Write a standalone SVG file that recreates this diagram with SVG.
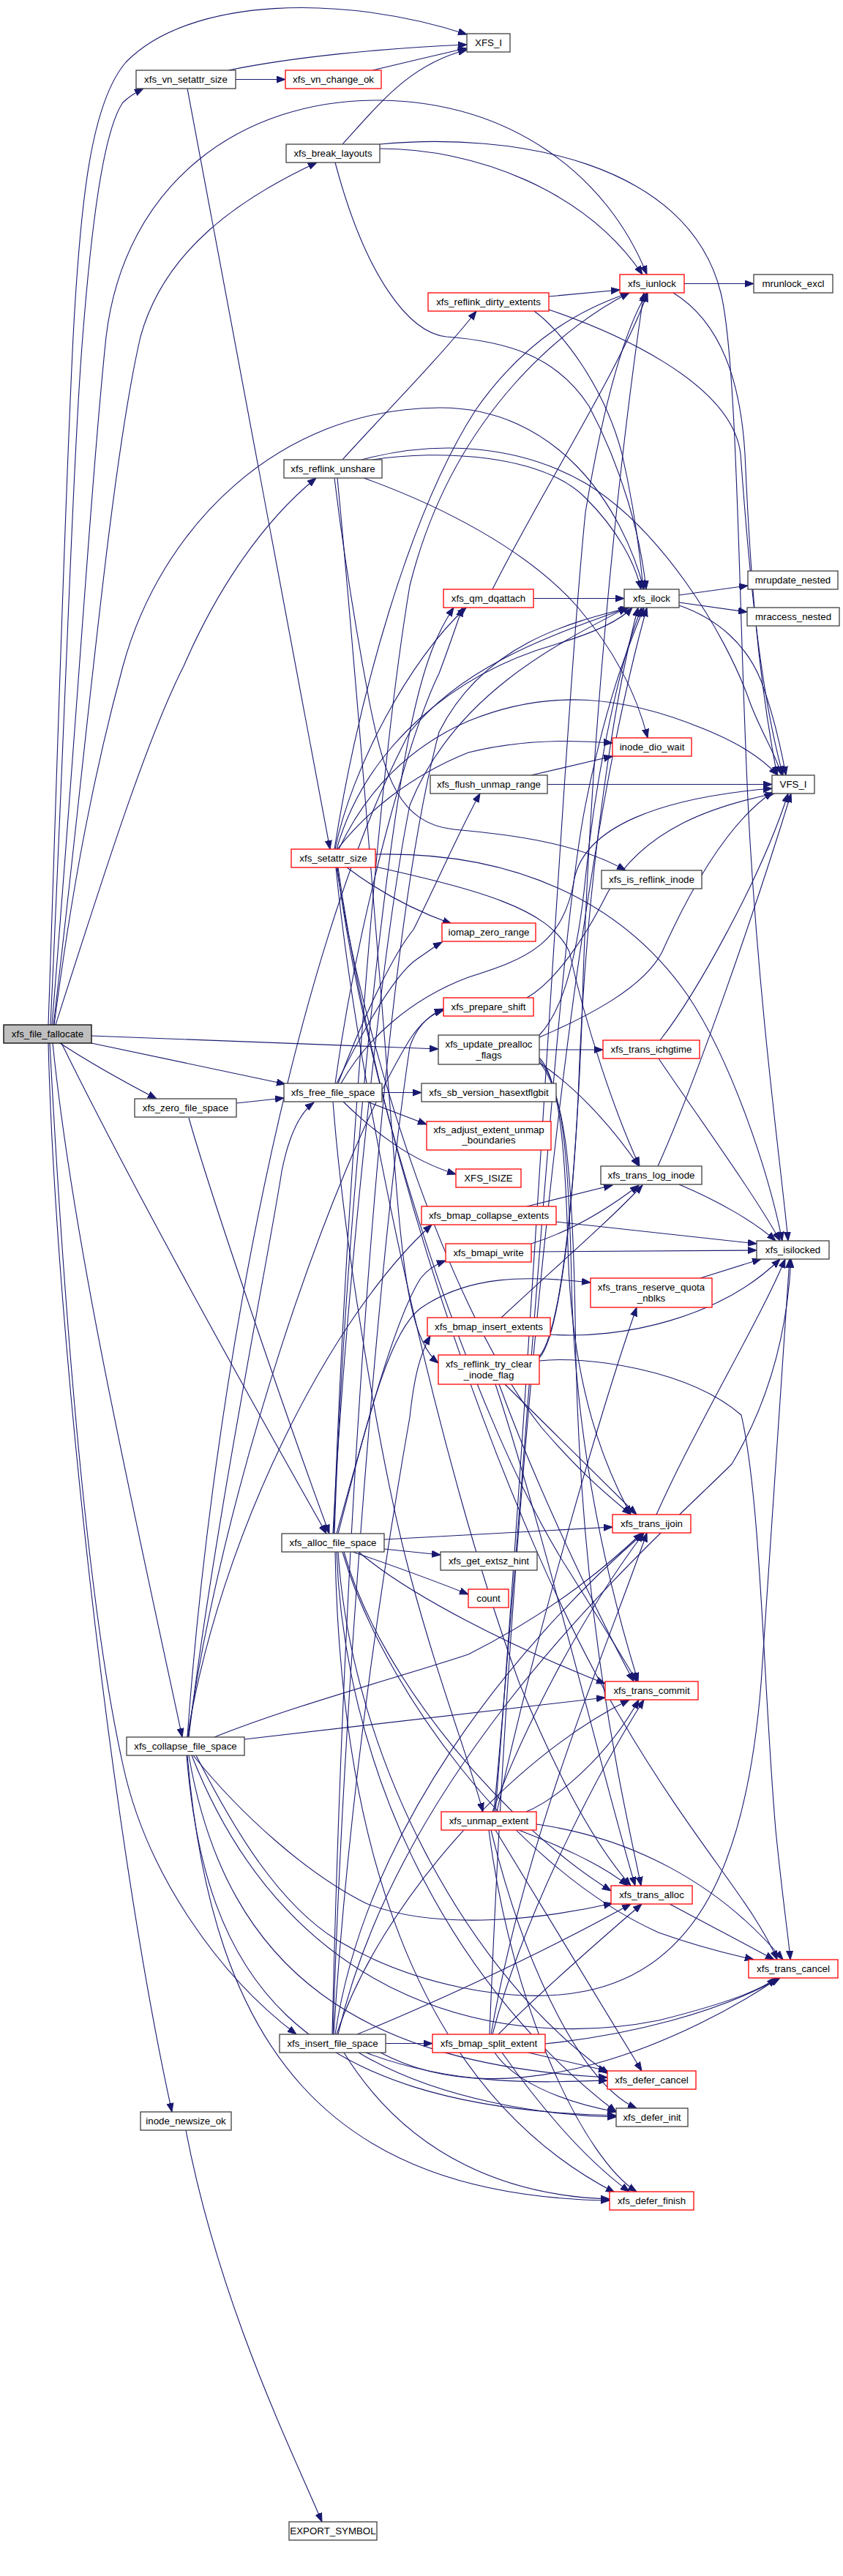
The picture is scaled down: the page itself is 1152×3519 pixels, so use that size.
<svg xmlns="http://www.w3.org/2000/svg" width="1152" height="3519" viewBox="0 0 1152 3519">
<defs>
<style>
.nb{fill:#fff;stroke:#404040;stroke-width:1.3}
.nr{fill:#fff;stroke:#ff0000;stroke-width:1.3}
.nroot{fill:#bfbfbf;stroke:#000;stroke-width:1.3}
text{font-family:"Liberation Sans",Arial,sans-serif;font-size:13.3px;fill:#000;text-anchor:middle}
.e path{fill:none;stroke:#191970;stroke-width:1.1;marker-end:url(#a)}
</style>
<marker id="a" markerWidth="14" markerHeight="10" refX="12" refY="5" orient="auto" markerUnits="userSpaceOnUse"><path d="M0,0.5 L12,5 L0,9.5 z" fill="#191970" stroke="#191970" stroke-width="1"/></marker>
</defs>
<rect width="1152" height="3519" fill="#fff"/>
<g class="e" id="edges">
<path d="M66,1400 C78,1050 88,700 100,460 C110,270 125,140 172,85 C260,-5 470,-8 638,47"/>
<path d="M69,1400 C88,1000 100,620 113,460 C124,320 140,180 168,140 C176,132 186,126 196,121"/>
<path d="M71,1400 C100,1050 125,650 145,460 C170,250 330,135 520,137 C700,140 830,240 884,375"/>
<path d="M73,1400 C115,1050 150,640 192,460 C225,340 330,270 433,222"/>
<path d="M76,1400 C140,1200 200,1010 251,910 C290,820 350,720 432,653"/>
<path d="M74,1400 C100,1200 130,1050 168,910 C220,720 380,558 600,557 C760,556 850,690 880,805"/>
<path d="M125,1415 L599,1433"/>
<path d="M125,1425 L390,1481"/>
<path d="M82,1425 C120,1450 170,1478 214,1501"/>
<path d="M84,1425 C180,1620 330,1890 446,2095"/>
<path d="M72,1425 C100,1700 180,2050 249,2373"/>
<path d="M68,1425 C80,1650 110,2150 168,2411 C200,2560 300,2700 405,2779"/>
<path d="M66,1425 C75,1800 150,2500 235,2885"/>
<path d="M312,96 C400,78 520,66 638,61"/>
<path d="M322,108.5 L390,108.5"/>
<path d="M256,121 L451,1160"/>
<path d="M509,96 C560,84 600,74 638,66"/>
<path d="M468,197 C520,140 560,88 638,68"/>
<path d="M519,203 C650,203 800,260 878,375"/>
<path d="M519,197 C700,180 940,220 985,400 C1010,500 1010,900 1025,1150 C1040,1400 1068,1600 1077,1695"/>
<path d="M458,222 C500,380 560,455 610,460 C690,466 760,485 805,555 C850,640 875,730 883,805"/>
<path d="M935,387.5 L1030,387.5"/>
<path d="M920,400 C985,440 1012,520 1018,620 C1025,780 1035,920 1062,1059"/>
<path d="M750,405 L847,396"/>
<path d="M730,425 C765,450 825,525 850,620 C866,690 875,760 879,805"/>
<path d="M750,423 C830,450 1000,520 1012,620 C1025,800 1040,950 1070,1059"/>
<path d="M468,628 C520,570 600,490 651,425"/>
<path d="M509,628 C600,614 740,620 800,680 C845,725 868,770 876,805"/>
<path d="M494,628 C600,600 710,608 800,660 C900,720 990,860 1025,960 C1040,1000 1060,1030 1068,1059"/>
<path d="M497,653 C600,690 720,750 790,830 C848,898 873,960 885,1008"/>
<path d="M457,653 C470,760 490,880 505,960 C525,1060 545,1125 620,1133 C700,1140 790,1152 855,1189"/>
<path d="M461,653 C485,900 520,1350 540,1600 C552,1760 565,1835 599,1862"/>
<path d="M729,817.5 L853,817.5"/>
<path d="M673,805 C735,680 850,500 885,400"/>
<path d="M928,813 L1022,800"/>
<path d="M928,823 L1021,836"/>
<path d="M928,827 C980,845 1020,880 1040,930 C1055,970 1065,1010 1074,1059"/>
<path d="M748,1071.5 L1055,1071.5"/>
<path d="M726,1059 L837,1033"/>
<path d="M513,1167 C700,1163 850,1230 940,1360 C1000,1450 1050,1600 1069,1695"/>
<path d="M513,1184 C650,1215 750,1240 778,1300 C800,1400 840,1520 874,1593"/>
<path d="M474,1185 C520,1220 570,1245 617,1262"/>
<path d="M463,1160 C500,1080 560,1020 640,985 C750,940 850,950 960,995 C1010,1015 1040,1035 1063,1059"/>
<path d="M461,1160 C500,1110 560,1060 640,1028 C720,1008 800,1012 837,1015"/>
<path d="M458,1160 C480,1050 560,900 637,830"/>
<path d="M460,1160 C500,1020 620,920 760,880 C820,862 850,845 864,830"/>
<path d="M457,1160 C490,950 560,700 650,560 C720,460 800,420 860,400"/>
<path d="M459,1185 C490,1500 600,2000 710,2300 C780,2470 830,2540 862,2576"/>
<path d="M460,1185 C500,1450 620,1800 740,1950 C800,2020 840,2050 862,2069"/>
<path d="M461,1185 C500,1500 650,1950 780,2150 C830,2230 855,2270 870,2297"/>
<path d="M462,1185 C520,1600 700,2100 850,2350 C950,2520 1030,2600 1062,2677"/>
<path d="M522,1492.5 L576,1492.5"/>
<path d="M502,1505 L583,1536"/>
<path d="M469,1505 C510,1545 560,1585 623,1604"/>
<path d="M462,1480 C500,1380 540,1300 565,1270 C600,1200 630,1130 656,1084"/>
<path d="M460,1480 C500,1400 540,1330 570,1310 C585,1300 595,1292 604,1287"/>
<path d="M458,1480 C490,1250 560,1000 600,920 C615,880 625,850 632,830"/>
<path d="M466,1480 C500,1420 560,1365 640,1335 C720,1310 770,1290 785,1200 C800,1130 900,1090 1055,1077"/>
<path d="M455,1505 C470,1700 520,2000 560,2150 C600,2300 640,2400 660,2475"/>
<path d="M323,1507 L388,1500"/>
<path d="M258,1527 C290,1640 400,1960 450,2095"/>
<path d="M737,1434 L824,1434"/>
<path d="M737,1417 C800,1390 880,1350 905,1300 C950,1200 1000,1120 1056,1082"/>
<path d="M737,1414 C770,1380 790,1300 800,1200 C815,1050 848,900 877,830"/>
<path d="M737,1452 C780,1480 830,1530 873,1593"/>
<path d="M737,1445 C762,1470 772,1550 776,1700 C780,1900 830,2010 862,2069"/>
<path d="M737,1448 C766,1480 777,1560 781,1750 C786,2000 842,2200 872,2297"/>
<path d="M737,1451 C770,1490 782,1580 786,1800 C790,2200 850,2450 876,2576"/>
<path d="M902,1421 C950,1360 1040,1200 1077,1084"/>
<path d="M900,1446 C950,1520 1030,1630 1066,1695"/>
<path d="M899,1593 C950,1480 1030,1250 1081,1084"/>
<path d="M928,1618 C980,1640 1030,1668 1060,1695"/>
<path d="M720,1648 L837,1619"/>
<path d="M760,1669 L1034,1699"/>
<path d="M726,1699 C780,1682 830,1652 873,1619"/>
<path d="M726,1710 L1034,1708"/>
<path d="M685,1800 C760,1730 830,1670 878,1619"/>
<path d="M752,1823 C850,1830 985,1800 1066,1720"/>
<path d="M957,1746 L1040,1720"/>
<path d="M897,2069 C950,1950 1040,1800 1073,1720"/>
<path d="M737,1859 C800,1852 940,1870 1013,1933 C1040,2050 1043,2300 1060,2500 C1070,2600 1078,2650 1080,2677"/>
<path d="M690,1891 C750,1950 830,2030 870,2069"/>
<path d="M677,1891 C740,2080 830,2450 868,2576"/>
<path d="M682,1891 C740,2050 830,2230 866,2297"/>
<path d="M737,1855 C760,1830 780,1700 790,1500 C800,1200 840,950 872,830"/>
<path d="M737,1853 C765,1820 785,1650 795,1400 C805,1000 850,600 880,400"/>
<path d="M720,1363 C760,1340 800,1280 830,1220 C880,1130 980,1100 1058,1084"/>
<path d="M525,2116 L602,2124"/>
<path d="M482,2120 C540,2140 600,2162 640,2178"/>
<path d="M525,2103 L837,2086"/>
<path d="M460,2095 C500,1950 540,1800 575,1746 C585,1733 596,1727 609,1722"/>
<path d="M462,2095 C500,1950 530,1820 575,1787 C640,1742 720,1742 807,1752"/>
<path d="M470,2120 C520,2300 700,2500 835,2583"/>
<path d="M490,2120 C560,2180 700,2250 827,2300"/>
<path d="M468,2120 C520,2300 700,2550 900,2640 C970,2665 1010,2672 1030,2677"/>
<path d="M460,2120 C470,2400 600,2700 842,2885"/>
<path d="M458,2120 C465,2500 560,2850 840,2995"/>
<path d="M462,2120 C480,2400 640,2700 832,2833"/>
<path d="M455,2095 C470,1800 520,1300 560,1100 C620,950 760,880 857,830"/>
<path d="M456,2095 C470,1700 510,1100 560,800 C620,560 780,440 860,400"/>
<path d="M457,2095 C470,1700 520,1200 560,1000 C580,900 600,860 620,830"/>
<path d="M258,2373 C290,2100 370,1700 385,1600 C395,1550 410,1520 429,1506"/>
<path d="M257,2373 C300,2050 450,1600 560,1420 C575,1397 590,1385 606,1380"/>
<path d="M334,2376 L827,2319"/>
<path d="M293,2373 C400,2330 550,2290 640,2260 C760,2200 840,2130 877,2094"/>
<path d="M256,2373 C300,2100 450,1800 590,1673"/>
<path d="M268,2398 C320,2500 380,2600 460,2650 C560,2710 700,2740 800,2720 C950,2690 1020,2550 1040,2300 C1055,2050 1070,1850 1079,1720"/>
<path d="M264,2398 C330,2480 420,2560 500,2600 C600,2640 750,2620 837,2600"/>
<path d="M256,2373 C290,1900 400,1300 560,1000 C640,900 780,860 858,830"/>
<path d="M255,2398 C280,2700 400,2880 842,2890"/>
<path d="M256,2398 C290,2800 450,3000 833,3006"/>
<path d="M258,2398 C310,2700 500,2820 830,2838"/>
<path d="M262,2398 C400,2750 700,2800 900,2760 C980,2740 1040,2720 1060,2702"/>
<path d="M527,2791.5 L591,2791.5"/>
<path d="M488,2779 C560,2750 720,2680 862,2601"/>
<path d="M455,2779 C470,2300 520,1700 560,1430 C570,1400 590,1385 606,1378"/>
<path d="M456,2779 C480,2400 540,2050 560,1936 C566,1880 574,1850 588,1825"/>
<path d="M454,2779 C470,2100 520,1300 600,1000 C660,880 780,850 860,830"/>
<path d="M458,2779 C500,2500 700,2250 880,2094"/>
<path d="M460,2779 C520,2600 700,2400 860,2322"/>
<path d="M490,2804 C600,2870 750,2890 842,2892"/>
<path d="M470,2804 C560,2950 700,3000 833,3004"/>
<path d="M500,2804 C620,2850 740,2845 830,2842"/>
<path d="M520,2804 C700,2900 950,2780 1064,2702"/>
<path d="M462,2779 C550,2400 900,2100 1000,2000 C1060,1900 1077,1800 1081,1720"/>
<path d="M719,2475 C760,2458 830,2400 873,2322"/>
<path d="M709,2500 C760,2520 820,2545 858,2576"/>
<path d="M733,2492 C860,2510 980,2570 1070,2677"/>
<path d="M677,2500 L877,2829"/>
<path d="M671,2500 C720,2700 800,2850 870,2880"/>
<path d="M668,2500 C700,2750 800,2950 870,2994"/>
<path d="M673,2475 C720,2350 800,2200 880,2094"/>
<path d="M675,2475 C720,2000 760,1300 800,1100 C830,950 860,880 880,830"/>
<path d="M677,2475 C730,1800 770,1000 800,700 C830,520 860,440 884,400"/>
<path d="M679,2475 C740,2200 830,1900 870,1786"/>
<path d="M745,2792 C860,2780 980,2750 1066,2702"/>
<path d="M722,2804 L830,2829"/>
<path d="M681,2779 C740,2720 820,2650 877,2601"/>
<path d="M673,2779 C720,2600 830,2400 880,2322"/>
<path d="M671,2779 C720,2500 830,2250 884,2094"/>
<path d="M669,2779 C700,2000 780,1200 884,830"/>
<path d="M676,2804 C700,2840 760,2870 842,2885"/>
<path d="M686,2804 C740,2880 800,2950 860,2994"/>
<path d="M915,2601 L1058,2677"/>
<path d="M254,2910 C300,3150 400,3350 440,3445"/>
</g>
<g id="n-xfs_file_fallocate"><rect class="nroot" x="5" y="1400" width="120" height="25"/><text x="65" y="1417.2">xfs_file_fallocate</text></g>
<g id="n-XFS_I"><rect class="nb" x="638" y="46" width="59" height="25"/><text x="667.5" y="63.2">XFS_I</text></g>
<g id="n-xfs_vn_setattr_size"><rect class="nb" x="186" y="96" width="136" height="25"/><text x="254" y="113.2">xfs_vn_setattr_size</text></g>
<g id="n-xfs_vn_change_ok"><rect class="nr" x="390" y="96" width="131" height="25"/><text x="455.5" y="113.2">xfs_vn_change_ok</text></g>
<g id="n-xfs_break_layouts"><rect class="nb" x="391" y="197" width="128" height="25"/><text x="455" y="214.2">xfs_break_layouts</text></g>
<g id="n-xfs_iunlock"><rect class="nr" x="847" y="375" width="88" height="25"/><text x="891" y="392.2">xfs_iunlock</text></g>
<g id="n-mrunlock_excl"><rect class="nb" x="1030" y="375" width="108" height="25"/><text x="1084" y="392.2">mrunlock_excl</text></g>
<g id="n-xfs_reflink_dirty_extents"><rect class="nr" x="585" y="400" width="165" height="25"/><text x="667.5" y="417.2">xfs_reflink_dirty_extents</text></g>
<g id="n-xfs_reflink_unshare"><rect class="nb" x="388" y="628" width="134" height="25"/><text x="455" y="645.2">xfs_reflink_unshare</text></g>
<g id="n-mrupdate_nested"><rect class="nb" x="1022" y="780" width="123" height="25"/><text x="1083.5" y="797.2">mrupdate_nested</text></g>
<g id="n-mraccess_nested"><rect class="nb" x="1021" y="830" width="126" height="25"/><text x="1084" y="847.2">mraccess_nested</text></g>
<g id="n-xfs_qm_dqattach"><rect class="nr" x="606" y="805" width="123" height="25"/><text x="667.5" y="822.2">xfs_qm_dqattach</text></g>
<g id="n-xfs_ilock"><rect class="nb" x="853" y="805" width="75" height="25"/><text x="890.5" y="822.2">xfs_ilock</text></g>
<g id="n-inode_dio_wait"><rect class="nr" x="837" y="1008" width="108" height="25"/><text x="891" y="1025.2">inode_dio_wait</text></g>
<g id="n-xfs_flush_unmap_range"><rect class="nb" x="588" y="1059" width="160" height="25"/><text x="668" y="1076.2">xfs_flush_unmap_range</text></g>
<g id="n-VFS_I"><rect class="nb" x="1055" y="1059" width="58" height="25"/><text x="1084" y="1076.2">VFS_I</text></g>
<g id="n-xfs_setattr_size"><rect class="nr" x="398" y="1160" width="115" height="25"/><text x="455.5" y="1177.2">xfs_setattr_size</text></g>
<g id="n-xfs_is_reflink_inode"><rect class="nb" x="822" y="1189" width="137" height="25"/><text x="890.5" y="1206.2">xfs_is_reflink_inode</text></g>
<g id="n-iomap_zero_range"><rect class="nr" x="604" y="1261" width="128" height="25"/><text x="668" y="1278.2">iomap_zero_range</text></g>
<g id="n-xfs_prepare_shift"><rect class="nr" x="606" y="1363" width="123" height="25"/><text x="667.5" y="1380.2">xfs_prepare_shift</text></g>
<g id="n-xfs_update_prealloc_flags"><rect class="nb" x="599" y="1414" width="138" height="40"/><text x="668" y="1430.7">xfs_update_prealloc</text><text x="668" y="1445.5">_flags</text></g>
<g id="n-xfs_trans_ichgtime"><rect class="nr" x="824" y="1421" width="132" height="25"/><text x="890" y="1438.2">xfs_trans_ichgtime</text></g>
<g id="n-xfs_free_file_space"><rect class="nb" x="388" y="1480" width="134" height="25"/><text x="455" y="1497.2">xfs_free_file_space</text></g>
<g id="n-xfs_sb_version_hasextflgbit"><rect class="nb" x="576" y="1480" width="184" height="25"/><text x="668" y="1497.2">xfs_sb_version_hasextflgbit</text></g>
<g id="n-xfs_zero_file_space"><rect class="nb" x="184" y="1501" width="139" height="25"/><text x="253.5" y="1518.2">xfs_zero_file_space</text></g>
<g id="n-xfs_adjust_extent_unmap_boundaries"><rect class="nr" x="583" y="1532" width="170" height="39"/><text x="668" y="1547.5">xfs_adjust_extent_unmap</text><text x="668" y="1562">_boundaries</text></g>
<g id="n-XFS_ISIZE"><rect class="nr" x="623" y="1597" width="89" height="25"/><text x="667.5" y="1614.2">XFS_ISIZE</text></g>
<g id="n-xfs_trans_log_inode"><rect class="nb" x="821" y="1593" width="138" height="25"/><text x="890" y="1610.2">xfs_trans_log_inode</text></g>
<g id="n-xfs_bmap_collapse_extents"><rect class="nr" x="576" y="1648" width="184" height="25"/><text x="668" y="1665.2">xfs_bmap_collapse_extents</text></g>
<g id="n-xfs_bmapi_write"><rect class="nr" x="609" y="1699" width="117" height="25"/><text x="667.5" y="1716.2">xfs_bmapi_write</text></g>
<g id="n-xfs_isilocked"><rect class="nb" x="1034" y="1695" width="99" height="25"/><text x="1083.5" y="1712.2">xfs_isilocked</text></g>
<g id="n-xfs_trans_reserve_quota_nblks"><rect class="nr" x="807" y="1746" width="166" height="40"/><text x="890" y="1762.5">xfs_trans_reserve_quota</text><text x="890" y="1777.5">_nblks</text></g>
<g id="n-xfs_bmap_insert_extents"><rect class="nr" x="584" y="1800" width="168" height="25"/><text x="668" y="1817.2">xfs_bmap_insert_extents</text></g>
<g id="n-xfs_reflink_try_clear_inode_flag"><rect class="nr" x="599" y="1851" width="138" height="40"/><text x="668" y="1867.5">xfs_reflink_try_clear</text><text x="668" y="1882.5">_inode_flag</text></g>
<g id="n-xfs_trans_ijoin"><rect class="nr" x="837" y="2069" width="107" height="25"/><text x="890.5" y="2086.2">xfs_trans_ijoin</text></g>
<g id="n-xfs_alloc_file_space"><rect class="nb" x="385" y="2095" width="140" height="25"/><text x="455" y="2112.2">xfs_alloc_file_space</text></g>
<g id="n-xfs_get_extsz_hint"><rect class="nb" x="602" y="2120" width="132" height="25"/><text x="668" y="2137.2">xfs_get_extsz_hint</text></g>
<g id="n-count"><rect class="nr" x="640" y="2171" width="55" height="25"/><text x="667.5" y="2188.2">count</text></g>
<g id="n-xfs_trans_commit"><rect class="nr" x="827" y="2297" width="127" height="25"/><text x="890.5" y="2314.2">xfs_trans_commit</text></g>
<g id="n-xfs_collapse_file_space"><rect class="nb" x="173" y="2373" width="161" height="25"/><text x="253.5" y="2390.2">xfs_collapse_file_space</text></g>
<g id="n-xfs_unmap_extent"><rect class="nr" x="603" y="2475" width="130" height="25"/><text x="668" y="2492.2">xfs_unmap_extent</text></g>
<g id="n-xfs_trans_alloc"><rect class="nr" x="835" y="2576" width="111" height="25"/><text x="890.5" y="2593.2">xfs_trans_alloc</text></g>
<g id="n-xfs_trans_cancel"><rect class="nr" x="1023" y="2677" width="122" height="25"/><text x="1084" y="2694.2">xfs_trans_cancel</text></g>
<g id="n-xfs_insert_file_space"><rect class="nb" x="382" y="2779" width="145" height="25"/><text x="454.5" y="2796.2">xfs_insert_file_space</text></g>
<g id="n-xfs_bmap_split_extent"><rect class="nr" x="591" y="2779" width="154" height="25"/><text x="668" y="2796.2">xfs_bmap_split_extent</text></g>
<g id="n-xfs_defer_cancel"><rect class="nr" x="830" y="2829" width="121" height="25"/><text x="890.5" y="2846.2">xfs_defer_cancel</text></g>
<g id="n-xfs_defer_init"><rect class="nb" x="842" y="2880" width="98" height="25"/><text x="891" y="2897.2">xfs_defer_init</text></g>
<g id="n-xfs_defer_finish"><rect class="nr" x="833" y="2994" width="115" height="25"/><text x="890.5" y="3011.2">xfs_defer_finish</text></g>
<g id="n-inode_newsize_ok"><rect class="nb" x="192" y="2885" width="124" height="25"/><text x="254" y="2902.2">inode_newsize_ok</text></g>
<g id="n-EXPORT_SYMBOL"><rect class="nb" x="395" y="3445" width="120" height="25"/><text x="455" y="3462.2">EXPORT_SYMBOL</text></g>
</svg>
